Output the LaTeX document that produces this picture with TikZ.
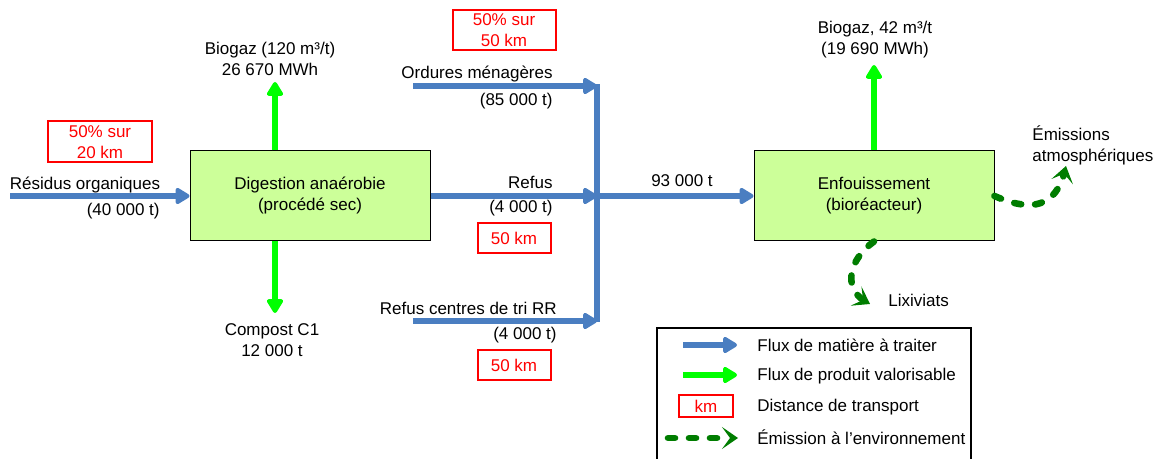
\documentclass[tikz,border=0pt]{standalone}
\usepackage{fontspec}
\setmainfont{Liberation Sans}
\usetikzlibrary{arrows.meta,bending}

\definecolor{fluxbleu}{RGB}{74,126,193}
\definecolor{fluxvert}{RGB}{0,255,0}
\definecolor{boitevert}{RGB}{204,255,153}
\definecolor{emisvert}{RGB}{0,125,0}

\begin{document}
\begin{tikzpicture}[x=0.5pt, y=-0.5pt,
  every node/.style={font=\fontsize{8.5}{10.5}\selectfont, inner sep=0pt},
  procede/.style={draw, rectangle, fill=boitevert, line width=0.5pt, minimum width=120pt, minimum height=45pt, align=center},
  kmbox/.style={draw=red, text=red, line width=1pt, align=center},
  matiere/.style={draw=fluxbleu, line width=3.3pt, -{Triangle[round, length=8pt, width=9pt]}},
  produit/.style={draw=fluxvert, line width=3.3pt, -{Triangle[round, length=8pt, width=9pt]}},
  emission/.style={draw=emisvert, line width=3.3pt, line cap=round, dash pattern=on 3.5pt off 7pt, -{Stealth[length=8pt, width=11pt, inset=4pt]}}]
\useasboundingbox (0,0) rectangle (1162,459);

% procedes
\node[procede] (digestion) at (310,196) {Digestion anaérobie\\(procédé sec)};
\node[procede] (enfouis) at (874,196) {Enfouissement\\(bioréacteur)};

% distances
\node[kmbox, minimum width=52pt, minimum height=20.5pt] (d20) at (100,142) {50\% sur\\20 km};
\node[kmbox, minimum width=51.5pt, minimum height=20pt] (d50a) at (504,30) {50\% sur\\50 km};
\node[kmbox, minimum width=36.5pt, minimum height=15pt] (d50b) at (514,238) {50 km};
\node[kmbox, minimum width=36.5pt, minimum height=15pt] (d50c) at (514,365) {50 km};

% textes
\node (residus) at (85,185) {Résidus organiques};
\node[anchor=east] (residusT) at (160,211) {(40 000 t)};
\node[align=center] (biogazD) at (270,59) {Biogaz (120 m³/t)\\26 670 MWh};
\node[align=center] (compost) at (272,340) {Compost C1\\12 000 t};
\node[anchor=east] (ordures) at (553,74) {Ordures ménagères};
\node[anchor=east] (orduresT) at (553,101) {(85 000 t)};
\node[anchor=east] (refus) at (553,182) {Refus};
\node[anchor=east] (refusT) at (553,208) {(4 000 t)};
\node[anchor=east] (refusRR) at (557,308) {Refus centres de tri RR};
\node[anchor=east] (refusRRT) at (557,335) {(4 000 t)};
\node (total) at (682,181) {93 000 t};
\node[align=center] (biogazE) at (875,40) {Biogaz, 42 m³/t\\(19 690 MWh)};
\node[anchor=west, align=left] (atmos) at (1032,145) {Émissions\\atmosphériques};
\node[anchor=west] (lixiv) at (888,300) {Lixiviats};

% points des fleches
\coordinate (resA) at (10,196);
\coordinate (ordA) at (413,86);
\coordinate (rrA) at (413,321);
\coordinate (barH) at (597,84);
\coordinate (barB) at (597,322);
\coordinate (gazD) at (275,82);
\coordinate (compD) at (275,313);
\coordinate (gazE) at (874,65);
\coordinate (atmosB) at (1066,166);
\coordinate (lixivB) at (870,304);

\path
    (resA) edge[matiere] (digestion.west)
    (ordA) edge[matiere] (ordA -| barH)
    (rrA) edge[matiere] (rrA -| barH)
    (digestion.east) edge[matiere] (digestion.east -| barH)
    (enfouis.west -| barH) edge[matiere] (enfouis.west)
    (digestion.north -| gazD) edge[produit] (gazD)
    (digestion.south -| compD) edge[produit] (compD)
    (enfouis.north) edge[produit] (gazE);
\draw[fluxbleu, line width=3.3pt] (barH) -- (barB);

\draw[emission] (enfouis.east) .. controls (1035,214) and (1058,205) .. (atmosB);
\draw[emission] (enfouis.south) .. controls (846,262) and (843,292) .. (lixivB);

% legende
\draw[line width=0.8pt] (657,470) -- (657,328) -- (971,328) -- (971,470);
\coordinate (legA1) at (683,345);
\coordinate (legB1) at (737,345);
\coordinate (legA2) at (683,375);
\coordinate (legB2) at (737,375);
\coordinate (legA4) at (668,438);
\coordinate (legB4) at (738,438);
\path
    (legA1) edge[matiere] (legB1)
    (legA2) edge[produit] (legB2)
    (legA4) edge[emission] (legB4);
\node[kmbox, minimum width=27pt, minimum height=11pt] (legkm) at (706,406) {km};
\node[anchor=west] (leg1) at (757,345) {Flux de matière à traiter};
\node[anchor=west] (leg2) at (757,376) {Flux de produit valorisable};
\node[anchor=west] (leg3) at (757,407) {Distance de transport};
\node[anchor=west] (leg4) at (757,437) {Émission à l’environnement};
\end{tikzpicture}
\end{document}
